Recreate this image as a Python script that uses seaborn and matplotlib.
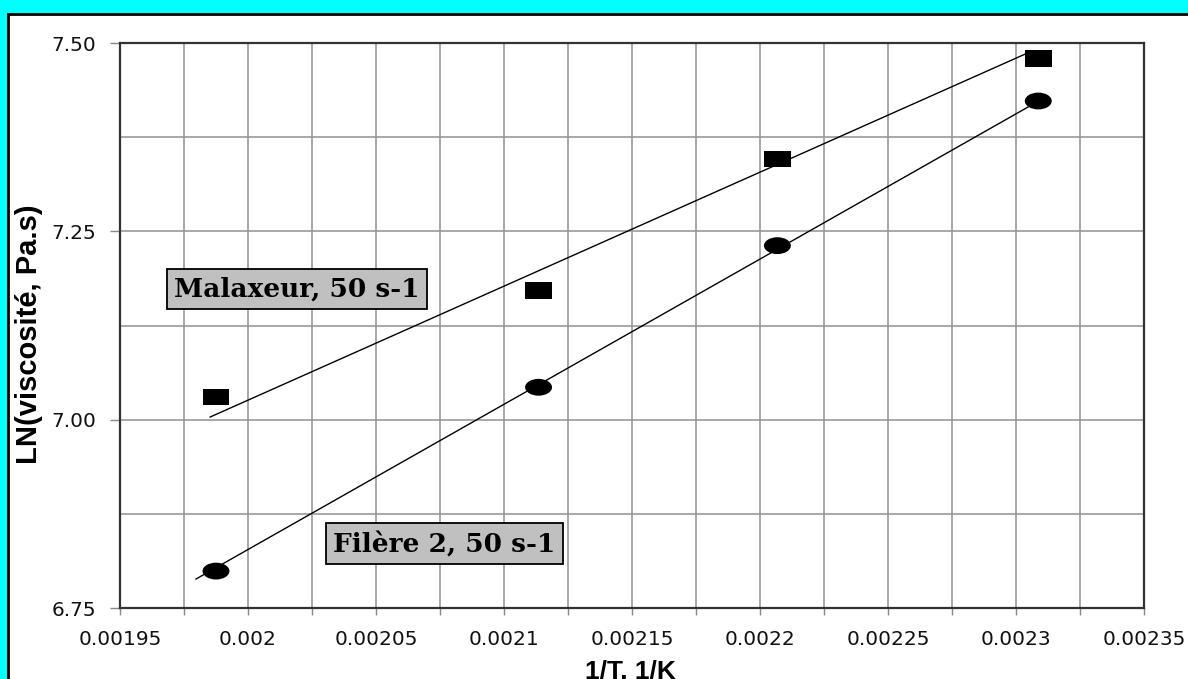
import numpy as np
import pandas as pd
import matplotlib
matplotlib.use("Agg")
import matplotlib.pyplot as plt
import seaborn as sns
from matplotlib.path import Path
from matplotlib.patches import Rectangle
from matplotlib.ticker import MultipleLocator, FixedLocator, FixedFormatter

# ---- data ----
inv_T = [0.0019875, 0.0021135, 0.0022068, 0.0023087]
ln_visc_malaxeur = [7.030, 7.171, 7.346, 7.479]
ln_visc_filiere = [6.799, 7.043, 7.231, 7.423]
series_names = ["Malaxeur, 50 s-1", "Filère 2, 50 s-1"]
# trend lines as drawn in the reference (end points)
trend_x_malaxeur = [0.0019852, 0.0023063]
trend_y_malaxeur = [7.0035, 7.4894]
trend_x_filiere = [0.0019797, 0.0023047]
trend_y_filiere = [6.7885, 7.4150]
x_tick_values = [0.00195, 0.00200, 0.00205, 0.00210, 0.00215,
                 0.00220, 0.00225, 0.00230, 0.00235]
x_tick_labels = ["0.00195", "0.002", "0.00205", "0.0021", "0.00215",
                 "0.0022", "0.00225", "0.0023", "0.00235"]
y_tick_values = [6.75, 7.00, 7.25, 7.50]
y_tick_labels = ["6.75", "7.00", "7.25", "7.50"]
x_label = "1/T, 1/K"
y_label = "LN(viscosité, Pa.s)"

df = pd.DataFrame({
    "invT": inv_T + inv_T,
    "lnv": ln_visc_malaxeur + ln_visc_filiere,
    "serie": [series_names[0]] * len(inv_T) + [series_names[1]] * len(inv_T),
})
trend = pd.DataFrame({
    "invT": trend_x_malaxeur + trend_x_filiere,
    "lnv": trend_y_malaxeur + trend_y_filiere,
    "serie": [series_names[0]] * 2 + [series_names[1]] * 2,
})

# wide markers (rectangle and ellipse)
rect_path = Path([(-1.6, -1), (1.6, -1), (1.6, 1), (-1.6, 1), (-1.6, -1)],
                 [Path.MOVETO, Path.LINETO, Path.LINETO, Path.LINETO, Path.CLOSEPOLY])
uc = Path.unit_circle()
ell_path = Path(uc.vertices * np.array([1.6, 1.0]), uc.codes)

W, H = 1188, 679
fig = plt.figure(figsize=(W / 100, H / 100), dpi=100, facecolor="#00ffff")
fig.patches.append(Rectangle((7.5 / W, -0.05), 1.2, (H - 13.5) / H + 0.05,
                             transform=fig.transFigure, facecolor="white",
                             edgecolor="black", linewidth=2, zorder=-10))

ax = fig.add_axes([120 / W, (H - 608) / H, 1024 / W, 565 / H])
ax.set_zorder(5)
ax.set_facecolor("white")

sns.lineplot(data=trend, x="invT", y="lnv", units="serie", estimator=None,
             color="black", linewidth=1.0, legend=False, ax=ax, zorder=2)
sns.scatterplot(data=df, x="invT", y="lnv", style="serie",
                markers={series_names[0]: rect_path, series_names[1]: ell_path},
                color="black", s=376, linewidth=0, legend=False, ax=ax, zorder=3)

ax.set_xlim(x_tick_values[0], x_tick_values[-1])
ax.set_ylim(y_tick_values[0], y_tick_values[-1])
ax.xaxis.set_major_locator(FixedLocator(x_tick_values))
ax.xaxis.set_major_formatter(FixedFormatter(x_tick_labels))
ax.yaxis.set_major_locator(FixedLocator(y_tick_values))
ax.yaxis.set_major_formatter(FixedFormatter(y_tick_labels))
ax.xaxis.set_minor_locator(MultipleLocator(0.000025))
ax.yaxis.set_minor_locator(MultipleLocator(0.125))
ax.grid(which="both", color="#9a9a9a", linewidth=1.2, zorder=0)
ax.set_axisbelow(True)

ax.tick_params(axis="x", which="both", direction="out", length=5, width=1,
               color="#888888", labelsize=14.5, pad=11, labelcolor="#111111")
ax.tick_params(axis="y", which="major", direction="out", length=7, width=1,
               color="#888888", labelsize=14.5, pad=10, labelcolor="#111111")
ax.tick_params(axis="y", which="minor", length=0)
for lab in ax.get_xticklabels() + ax.get_yticklabels():
    lab.set_fontfamily("DejaVu Sans")

for sp in ax.spines.values():
    sp.set_visible(True)
    sp.set_color("#333333")
    sp.set_linewidth(1.6)

box = dict(boxstyle="square,pad=0.27", facecolor="#c0c0c0", edgecolor="black", linewidth=1.3)
ax.text(0.0020191, 7.1735, series_names[0], family="DejaVu Serif", fontweight="bold",
        fontsize=19, ha="center", va="center", bbox=box, zorder=5)
ax.text(0.0020768, 6.8356, series_names[1], family="DejaVu Serif", fontweight="bold",
        fontsize=19, ha="center", va="center", bbox=box, zorder=5)

ax.set_xlabel(x_label, family="Liberation Sans", fontweight="bold", fontsize=19)
ax.xaxis.set_label_coords(0.498, -0.092)
ax.set_ylabel(y_label, family="Liberation Sans", fontweight="bold", fontsize=21)
ax.yaxis.set_label_coords(-0.0752, 0.485)

fig.savefig("out.png", dpi=100, facecolor=fig.get_facecolor())
